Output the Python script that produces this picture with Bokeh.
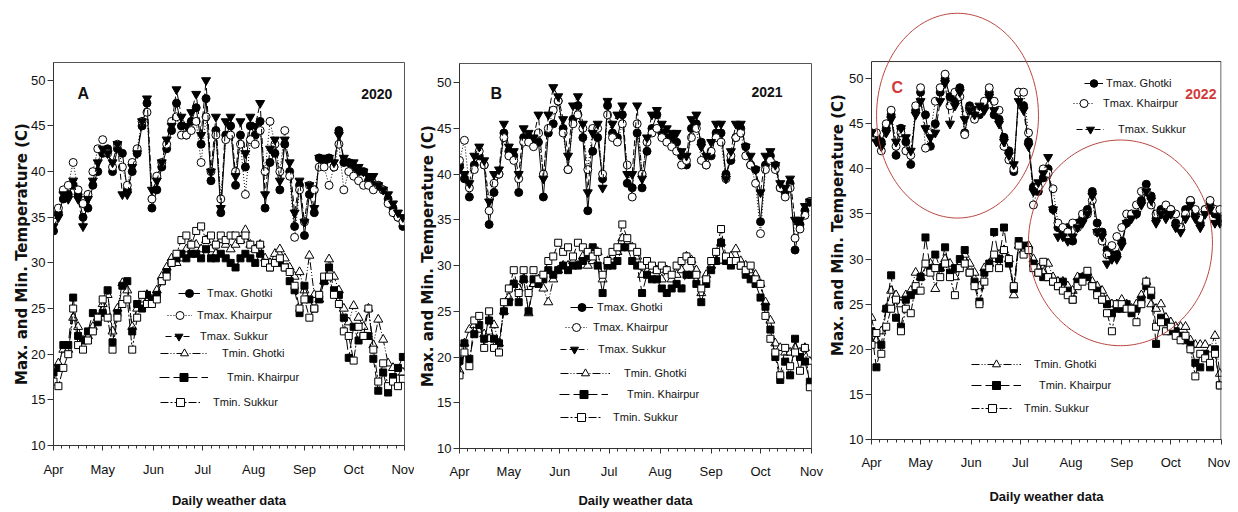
import numpy as np
from bokeh.plotting import figure
from bokeh.layouts import row
from bokeh.models import (FixedTicker, Legend, LegendItem, Label, PolyAnnotation, BoxAnnotation,
                          Range1d, Title)
from bokeh.embed import file_html
from bokeh.resources import INLINE

# ---------------- data ----------------
DAYS = list(range(0, 214, 3))          # days since 1 April (every 3rd day)
MONTH_STARTS = [0, 30, 61, 91, 122, 153, 183, 214]
MONTH_LABELS = ["Apr", "May", "Jun", "Jul", "Aug", "Sep", "Oct", "Nov"]
Y_TICKS = [10, 15, 20, 25, 30, 35, 40, 45, 50]
SERIES = ["Tmax. Ghotki", "Tmax. Khairpur", "Tmax. Sukkur",
          "Tmin. Ghotki", "Tmin. Khairpur", "Tmin. Sukkur"]

# 2020
A_TMAX_GHOTKI = [33.5, 35.5, 37, 37.5, 38.5, 37.5, 35, 36, 38.5, 40, 42, 42.5, 40, 42.5, 42, 38, 40, 42, 45, 47.5, 36, 38, 40.5, 42.5, 44.5, 47.5, 45, 44, 45.5, 47, 43, 48, 39, 44.5, 35.5, 44, 45, 38.5, 44, 40.5, 45, 44, 45.5, 36, 41, 42, 38, 43, 40, 34, 38.5, 33, 37.5, 35.5, 41.5, 41, 41.5, 40.5, 44.5, 41, 41, 40.5, 40, 40, 39, 38.5, 38.5, 38, 37, 36, 35, 34]
A_TMAX_KHAIRPUR = [34.5, 36, 38, 38.5, 41, 38, 36.5, 37.5, 40, 42.5, 43.5, 42, 40.5, 43, 40.5, 38.5, 41, 42.5, 45.5, 46.5, 37, 39.5, 41, 43, 45.5, 46, 44, 44, 44.5, 45.5, 41, 46, 40, 44, 37, 43.5, 44, 40, 43, 37.5, 43.5, 43, 44.5, 40, 45.5, 43, 40, 44.5, 39.5, 32.8, 38, 34.5, 38.5, 38, 40.5, 40.5, 38.5, 40.5, 43, 38, 40, 39.5, 39, 38.5, 38.5, 38, 38.5, 38, 36.5, 35.5, 35, 34.5]
A_TMAX_SUKKUR = [34, 35, 37.5, 37, 39, 37, 34, 37, 39, 41, 42.5, 42, 41, 43, 37.5, 37.5, 40.5, 42, 45.5, 48, 38, 39, 41, 43.5, 45, 49, 46, 45, 46.5, 48.5, 44, 50, 40, 46, 36, 45.5, 46, 39.5, 45.5, 42, 46, 45, 47.5, 37.5, 42.5, 43.5, 39, 43.5, 41, 35.5, 39, 34.5, 38.5, 36, 41.5, 41.5, 41.5, 41, 44, 41.5, 41, 41, 40.5, 40, 39.5, 39.5, 38.5, 38, 37.5, 36.5, 35.5, 35]
A_TMIN_GHOTKI = [17, 19, 20.5, 20.5, 24, 23, 21.5, 22, 23, 24, 25.5, 26.5, 22.5, 25, 27.8, 27, 23, 25, 26, 26.5, 26, 27, 28.5, 29.5, 30.5, 30, 30.5, 31.5, 32, 32, 31.5, 32.5, 31.5, 31, 32.5, 32, 31.5, 32, 32.5, 33.6, 32, 31.5, 32, 30.5, 30, 31, 31.5, 30.5, 29.5, 28.5, 29, 27, 30.8, 26.5, 26, 28, 30.4, 28.5, 27, 25, 23.5, 25.3, 24, 23, 25, 21, 23.8, 21.6, 19, 18.5, 18, 18]
A_TMIN_KHAIRPUR = [18, 18.5, 21, 21, 26.2, 22, 21.5, 22.5, 24.5, 23.5, 24.5, 27, 21.3, 24.5, 27.5, 28, 22.5, 25.5, 25, 26.5, 26, 26.5, 28, 29, 30, 30.5, 31, 30.5, 31, 31, 30.5, 31.5, 30.5, 30.5, 31, 30.5, 30, 29.5, 30.5, 31, 30.5, 30, 31, 30, 29.5, 30, 30, 29.5, 28, 27, 24.5, 27.5, 26, 25, 26, 28, 29.5, 27, 26.5, 24, 19.6, 23, 21.5, 22, 22, 19.5, 16, 18, 15.8, 17.5, 18.5, 19.7]
A_TMIN_SUKKUR = [17, 16.5, 18.5, 20, 25, 21, 20.5, 21.5, 22.5, 24, 26, 24, 20.5, 24, 25.5, 26, 20.5, 24, 26.5, 25.5, 25.5, 26, 28, 28.5, 30, 31, 32.5, 33, 32, 33.5, 34, 32.5, 33, 32, 33, 32.5, 33, 33, 32.5, 33, 32, 31.5, 32, 30, 29.5, 30, 30.5, 29.5, 29, 27.5, 25, 26, 24, 25, 26.5, 28.5, 28.5, 26.5, 25.5, 22.5, 22, 19.3, 23, 22, 25, 20.5, 17, 19, 16.5, 17, 16.5, 17.3]

# 2021
B_TMAX_GHOTKI = [41, 39.5, 37.5, 41, 42, 41, 34.5, 38, 40, 44.5, 42.5, 42, 38, 44, 44, 43.5, 43.5, 37.5, 44.5, 45.5, 48, 45, 40.5, 46, 47.5, 44, 36, 42.5, 44, 39.5, 47.5, 44.5, 44, 46.5, 39, 38.5, 44.5, 38.5, 42.5, 45, 46.5, 44.5, 44, 44, 43.5, 42, 41, 45, 45.5, 43.5, 41, 42, 44.5, 44.5, 40, 41.5, 44, 45, 43, 41, 40.5, 34.8, 41, 42, 41, 38.5, 38, 39, 31.7, 34.5, 36, 37]
B_TMAX_KHAIRPUR = [41.5, 43.7, 38.5, 40.5, 42.5, 41, 36, 39, 40, 44, 42, 41.5, 39.5, 43.5, 43.5, 43, 44.5, 40, 45, 47, 48, 44.5, 40.5, 45.5, 46.5, 45, 40.5, 45, 45, 40, 46.5, 44, 43.5, 45.5, 41, 37.5, 45.5, 40, 43.5, 44.5, 45, 44, 43.5, 43, 42.5, 41, 41.5, 44, 45, 41.5, 41, 42.5, 44, 43.5, 39.5, 42, 44, 44.5, 42, 41, 39, 33.5, 40.5, 41.5, 40.5, 38.5, 37.5, 38.5, 33, 34, 35.5, 37]
B_TMAX_SUKKUR = [40.5, 40, 39, 42, 43, 41.5, 37, 40, 40.5, 45.5, 43, 42.5, 40, 45, 44.5, 44, 46.5, 39.5, 46.5, 49.5, 48.5, 46, 42, 47.5, 48.5, 45.5, 38, 44.5, 45.5, 38.5, 48, 45.5, 46.5, 47.5, 40, 40, 47.5, 39.5, 44, 46.5, 47, 45.5, 45, 44.5, 44.5, 42.5, 42, 46, 46.5, 43, 42, 43.5, 45.5, 45.5, 39.5, 42.5, 45.5, 45.5, 43, 42, 40.5, 38, 42, 42.5, 41, 39, 38.5, 39.5, 35, 35, 36.5, 37]
B_TMIN_GHOTKI = [18.5, 21.5, 23, 23.5, 23, 22.5, 22, 23.5, 21.5, 25, 26.5, 28, 27.5, 28.5, 24.8, 28, 28.5, 27.5, 26, 28.5, 29.5, 30, 30, 30.5, 30, 31, 30, 30.5, 31.5, 28.5, 30.5, 31, 31.5, 33, 32.5, 32, 31, 29, 30, 29.5, 29.5, 28.5, 29.5, 28.5, 29, 29.5, 31, 30.6, 29.5, 27, 29, 30, 30.5, 32.5, 30.5, 31, 31.8, 30.5, 30, 29.5, 29, 28, 26, 24, 21.5, 21, 20.5, 20.5, 21, 20.5, 21, 19.5]
B_TMIN_KHAIRPUR = [19.6, 21.5, 19.8, 22.5, 23.5, 22, 24, 22, 21.5, 25, 26, 28, 26, 28.5, 25, 28.5, 28, 28.5, 29.5, 29, 29.5, 30, 29.5, 30, 30, 30.5, 31, 32, 30, 27, 30, 30, 30.5, 32, 32, 30.5, 30, 27, 29, 28.5, 28.5, 27.5, 27, 27.5, 28, 27.5, 29, 29, 28, 26, 28, 29.5, 30.5, 32.5, 30.5, 30, 30.5, 30, 29, 28.5, 28, 26.5, 25.5, 23, 20, 17.5, 19.5, 18, 22, 20, 19.5, 17.3]
B_TMIN_SUKKUR = [18, 20.5, 19, 24, 24.5, 21, 25, 21, 20.5, 26, 27.5, 29.5, 27, 29.5, 27, 29.5, 28.5, 29, 30.5, 31, 32.5, 31.5, 32, 31, 32.5, 32, 31.5, 31, 31.5, 29, 30.5, 31.5, 32, 34.5, 33, 32, 31.5, 30, 30.5, 30, 29.5, 30, 29.5, 29, 30, 30.5, 31, 30.5, 29, 27.5, 28.5, 30.5, 31.5, 34, 31, 30.5, 30.5, 30, 29.5, 30, 28.5, 28, 24.5, 22, 20.5, 18, 21, 19, 20.5, 18.5, 21, 16.7]

# 2022
C_TMAX_GHOTKI = [44, 43.5, 43, 44.5, 46, 41.5, 44.5, 43, 40.5, 46.5, 48.5, 46, 42.5, 45, 48.5, 50, 48, 47.5, 49, 44, 47, 46.5, 46, 47, 48.5, 46, 45.5, 43.5, 42, 39.7, 48.5, 47, 43, 38, 37.5, 39, 40, 35.5, 33.5, 33, 33.5, 32, 34, 34.5, 35.5, 37.5, 34, 33, 31, 30.5, 30.5, 32, 34, 35, 35, 36.5, 38.3, 37, 34.5, 35.5, 35, 35.5, 34, 33.5, 35.5, 36.5, 35, 34, 35.5, 36, 35, 34.5]
C_TMAX_KHAIRPUR = [43.5, 44, 42, 45, 46.5, 42.5, 44, 42, 41.5, 47, 49, 42.3, 44, 47.5, 49, 50.5, 47, 48.5, 48, 43.8, 46.5, 45.5, 46.5, 47.5, 49, 47.5, 46.5, 42.5, 41, 40, 48.5, 48.5, 44, 36, 38, 40, 39.5, 37.8, 34, 33.5, 33, 34, 33.5, 35, 35, 36.5, 33, 32, 30.5, 31.5, 32.5, 33.5, 35, 35, 36, 37.5, 37.5, 36, 35, 35, 36, 35.5, 35, 33.5, 35, 36.5, 35.5, 34.5, 35.5, 36.5, 35.5, 35.5]
C_TMAX_SUKKUR = [44, 43, 42.5, 44, 45.5, 43, 44.5, 43.5, 42, 46, 47.5, 44.5, 43.5, 44, 47.5, 49.5, 45, 47, 48.5, 45.5, 46.5, 46, 47, 46.5, 48, 46.5, 45, 43, 41.5, 40.5, 47.5, 46.5, 42.5, 37.5, 38.5, 39.5, 41.3, 35.5, 32.5, 32.5, 32, 32.5, 33.5, 34, 35, 37, 33, 32.5, 29.5, 30, 30, 31.5, 34, 34.5, 35, 36, 37.5, 36.5, 34, 35, 34.5, 35, 33.5, 33, 34.5, 36, 34.5, 33.5, 35, 35.5, 34, 34]
C_TMIN_GHOTKI = [23.5, 21, 22, 24.5, 26.5, 26, 25, 26, 26.5, 28.5, 28, 28.5, 29.5, 26.7, 29, 30, 29.5, 28, 29.5, 30.5, 29.5, 28.5, 27, 29, 29.5, 30, 30.5, 31, 30, 26, 31.5, 31, 31.5, 30, 29, 28.5, 29.5, 28, 27.5, 27.5, 27, 26.5, 28, 28, 28.5, 27.5, 27, 26.5, 25.5, 25, 25, 25.5, 25, 24.5, 25, 26, 27.5, 25, 24.5, 25, 23.5, 23, 22.5, 22.5, 22.5, 21, 20.5, 20.5, 20.5, 20, 21.5, 17.3]
C_TMIN_KHAIRPUR = [22, 18, 20.5, 24.5, 28.2, 23.5, 22.5, 25.5, 26, 26.5, 28, 32.4, 29, 30.5, 29, 31.3, 28.5, 29, 30, 31, 28.5, 27.5, 25.3, 28.5, 29.5, 33, 30, 33.5, 29.5, 26.7, 32, 31.5, 31, 29.5, 28.5, 28, 28, 27.5, 27, 27.5, 26.5, 25.5, 27.5, 28, 28, 27, 26.5, 25.5, 25, 24, 24.5, 24.5, 25, 24, 24.5, 25.5, 27, 26, 20.6, 23.5, 23, 22, 22, 21.5, 21, 20.5, 18.5, 18, 19.5, 18, 20, 16]
C_TMIN_SUKKUR = [20.5, 21.8, 19.5, 22.5, 24.5, 25.5, 22, 24.5, 24, 27, 26.5, 29.5, 28.5, 29, 28, 29.5, 28, 26, 29, 29.5, 28.5, 27, 25, 27.5, 29, 30.5, 29, 31, 30, 27, 31.5, 30.5, 31, 29, 28.5, 29.7, 28, 27.5, 27, 26.5, 26, 25.5, 27, 27.5, 28.7, 27, 26, 25.5, 24, 22, 25, 25, 24.5, 24.5, 23, 25, 27.5, 26.5, 22.5, 23, 22, 22.5, 21.5, 21, 21.5, 20, 17, 19.5, 19, 18.5, 19.5, 16]

# highlighted regions in panel C (centre day, centre temp, width days, height deg)
C_HIGHLIGHTS = [(52.6, 45.9, 99, 22.7), (152.2, 31.8, 112.5, 22.8)]

# ---------------- styles ----------------
FONT = "Liberation Sans"
YLABEL = "Max. and Min. Temperature (C)"
STYLES = [
    dict(marker="circle", size=8, fill="black", dash="solid"),
    dict(marker="circle", size=8, fill="white", dash="1 2"),
    dict(marker="inverted_triangle", size=9, fill="black", dash="6 3"),
    dict(marker="triangle", size=9, fill="white", dash="8 2 1 2 1 2"),
    dict(marker="square", size=7, fill="black", dash="10 4"),
    dict(marker="square", size=7, fill="white", dash="8 2 2 2"),
]

H = 510
PANELS = [
    dict(values=[A_TMAX_GHOTKI, A_TMAX_KHAIRPUR, A_TMAX_SUKKUR, A_TMIN_GHOTKI, A_TMIN_KHAIRPUR, A_TMIN_SUKKUR],
         letter="A", year="2020", color="#111111", width=414, top=62, right=10, bottom=65, left=53,
         y_end=51.95, box_top=None, highlights=[], letter_xy=(14.6, 48.5), year_xy=(206.6, 48.5),
         ytick_st=2, ylab_st=-3, xtick_st=11, xlab_st=13,
         legend=[(125, 142, 22, 7), (114, 120, 25, 5), (112, 99, 27, 8),
                 (107, 82, 48, 14), (106, 58, 49, 19), (107, 33, 40, 13)]),
    dict(values=[B_TMAX_GHOTKI, B_TMAX_KHAIRPUR, B_TMAX_SUKKUR, B_TMIN_GHOTKI, B_TMIN_KHAIRPUR, B_TMIN_SUKKUR],
         letter="B", year="2021", color="#111111", width=412, top=63, right=15, bottom=62, left=45,
         y_end=52.1, box_top=None, highlights=[], letter_xy=(18.8, 48.8), year_xy=(196.4, 49.0),
         ytick_st=2, ylab_st=-3, xtick_st=10, xlab_st=11,
         legend=[(111, 131, 23, 4), (106, 111, 22, 6), (101, 89, 28, 10),
                 (101, 65, 50, 14), (100, 44, 49, 19), (101, 21, 42, 11)]),
    dict(values=[C_TMAX_GHOTKI, C_TMAX_KHAIRPUR, C_TMAX_SUKKUR, C_TMIN_GHOTKI, C_TMIN_KHAIRPUR, C_TMIN_SUKKUR],
         letter="C", year="2022", color="#d03a3a", width=404, top=10, right=9, bottom=71, left=44,
         y_end=57.56, box_top=51.9, highlights=C_HIGHLIGHTS, letter_xy=(12.2, 49.0), year_xy=(210.9, 48.3),
         ytick_st=2, ylab_st=0, ylab_offset=-13.5, xtick_st=10, xlab_st=16,
         legend=[(213, 346, 19, 3), (202, 326, 21, 9), (205, 300, 28, 14),
                 (100, 65, 50, 13), (100, 44, 50, 18), (100, 21, 42, 11)]),
]


def make_panel(cfg):
    p = figure(width=cfg["width"], height=H, output_backend="svg", toolbar_location=None,
               x_range=Range1d(0, 214), y_range=Range1d(10, cfg["y_end"]),
               min_border_left=cfg["left"], min_border_right=cfg["right"],
               min_border_top=cfg["top"], min_border_bottom=cfg["bottom"])
    if "frame_align" in p.properties():
        p.frame_align = False
    p.grid.visible = False
    p.background_fill_color = "white"

    minor = [a + (b - a) * k / 6 for a, b in zip(MONTH_STARTS[:-1], MONTH_STARTS[1:]) for k in range(1, 6)]
    xa = p.xaxis[0]
    xa.ticker = FixedTicker(ticks=MONTH_STARTS, minor_ticks=minor)
    xa.major_label_overrides = {m: lab for m, lab in zip(MONTH_STARTS, MONTH_LABELS)}
    xa.major_tick_in = 0
    xa.major_tick_out = 5
    xa.minor_tick_in = 0
    xa.minor_tick_out = 3
    xa.major_label_standoff = cfg["xtick_st"]
    xa.major_label_text_font = FONT
    xa.major_label_text_font_size = "13px"
    xa.major_label_text_color = "#111111"
    xa.axis_label = "Daily weather data"
    xa.axis_label_text_font = FONT
    xa.axis_label_text_font_style = "bold"
    xa.axis_label_text_font_size = "13px"
    xa.axis_label_text_color = "#111111"
    xa.axis_label_standoff = cfg["xlab_st"]

    ya = p.yaxis[0]
    ya.ticker = FixedTicker(ticks=Y_TICKS, minor_ticks=[])
    ya.major_tick_in = 0
    ya.major_tick_out = 6
    ya.minor_tick_out = 0
    ya.major_label_standoff = cfg["ytick_st"]
    ya.major_label_text_font = FONT
    ya.major_label_text_font_size = "13px"
    ya.major_label_text_color = "#111111"
    for ax in (xa, ya):
        ax.axis_line_color = "#333333"
        ax.major_tick_line_color = "#333333"
        ax.minor_tick_line_color = "#333333"

    if cfg["box_top"] is None:
        p.outline_line_color = "#555555"
        p.outline_line_width = 1
        ya.axis_label = YLABEL
        ya.axis_label_text_font = "DejaVu Sans"
        ya.axis_label_text_font_style = "bold"
        ya.axis_label_text_font_size = "15px"
        ya.axis_label_text_color = "#111111"
        ya.axis_label_standoff = cfg["ylab_st"]
    else:
        # frame extends above the visible box so the highlight ellipse can cross its top edge
        p.outline_line_alpha = 0
        ya.bounds = (10, cfg["box_top"])
        p.add_layout(BoxAnnotation(left=0, right=213.7, bottom=10, top=cfg["box_top"],
                                   fill_alpha=0, line_color="#333333", line_alpha=1, line_width=1))
        p.add_layout(Title(text=YLABEL, align="center", offset=cfg["ylab_offset"],
                           standoff=cfg["ylab_st"], text_font="DejaVu Sans", text_font_size="15px",
                           text_font_style="bold", text_color="#111111"), "left")

    legends = []
    for name, vals, st, (lx, ly, gw, ls) in zip(SERIES, cfg["values"], STYLES, cfg["legend"]):
        xs = DAYS[:len(vals)]
        lr = p.line(xs, vals, line_color="black", line_width=1, line_dash=st["dash"])
        sr = p.scatter(xs, vals, marker=st["marker"], size=st["size"], fill_color=st["fill"],
                       line_color="black", line_width=1)
        leg = Legend(items=[LegendItem(label=name, renderers=[lr, sr])], location=(lx, ly),
                     glyph_width=gw, glyph_height=20, label_height=20, label_standoff=ls,
                     padding=0, margin=0, spacing=0, border_line_alpha=0, background_fill_alpha=0,
                     label_text_font=FONT, label_text_font_size="11px", label_text_color="#111111")
        legends.append(leg)
    for leg in legends:
        p.add_layout(leg)

    t = np.linspace(0, 2 * np.pi, 181)
    for cx, cy, w, h in cfg["highlights"]:
        p.add_layout(PolyAnnotation(xs=list(cx + w / 2 * np.cos(t)), ys=list(cy + h / 2 * np.sin(t)),
                                    fill_alpha=0, line_color="#b8463f", line_alpha=1, line_width=1))

    p.add_layout(Label(x=cfg["letter_xy"][0], y=cfg["letter_xy"][1], text=cfg["letter"],
                       text_font=FONT, text_font_style="bold", text_font_size="16px",
                       text_baseline="middle", text_align="left", text_color=cfg["color"]))
    p.add_layout(Label(x=cfg["year_xy"][0], y=cfg["year_xy"][1], text=cfg["year"],
                       text_font=FONT, text_font_style="bold", text_font_size="14px",
                       text_baseline="middle", text_align="right", text_color=cfg["color"]))
    return p


layout = row(*[make_panel(c) for c in PANELS])
open("out.html", "w").write(file_html(layout, INLINE))
